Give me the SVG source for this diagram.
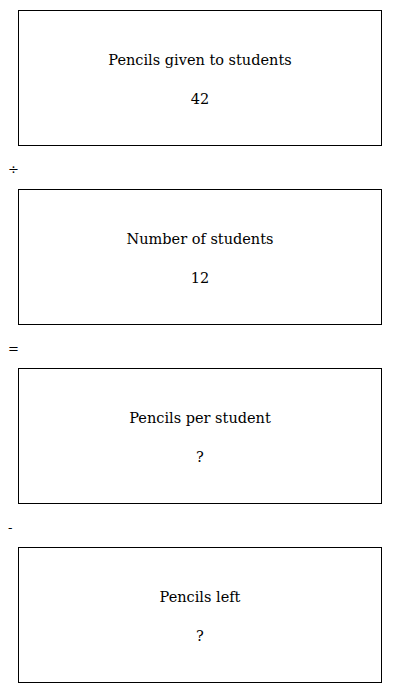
<svg xmlns="http://www.w3.org/2000/svg" width="400" height="693" viewBox="0 0 400 693">
<style>
.box{fill:#fff;stroke:#000;stroke-width:1}
.t{font-family:"DejaVu Serif","Liberation Serif",serif;font-size:14.5px;fill:#000;text-anchor:middle}
.op{font-family:"DejaVu Serif","Liberation Serif",serif;font-size:13px;fill:#000}
</style>
<rect width="400" height="693" fill="#fff"/>
<g id="node1"><rect class="box" x="18.5" y="10.5" width="363" height="135"/><text class="t" x="200" y="64.5">Pencils given to students</text><text class="t" x="200" y="103.5">42</text></g>
<g id="node2"><rect class="box" x="18.5" y="189.5" width="363" height="135"/><text class="t" x="200" y="243.5">Number of students</text><text class="t" x="200" y="282.5">12</text></g>
<g id="node3"><rect class="box" x="18.5" y="368.5" width="363" height="135"/><text class="t" x="200" y="422.5">Pencils per student</text><text class="t" x="200" y="461.5">?</text></g>
<g id="node4"><rect class="box" x="18.5" y="547.5" width="363" height="135"/><text class="t" x="200" y="601.5">Pencils left</text><text class="t" x="200" y="640.5">?</text></g>
<g id="connectors">
<text class="op" x="8" y="174">÷</text>
<text class="op" x="8" y="353">=</text>
<text class="op" x="8" y="532">-</text>
</g>
</svg>
